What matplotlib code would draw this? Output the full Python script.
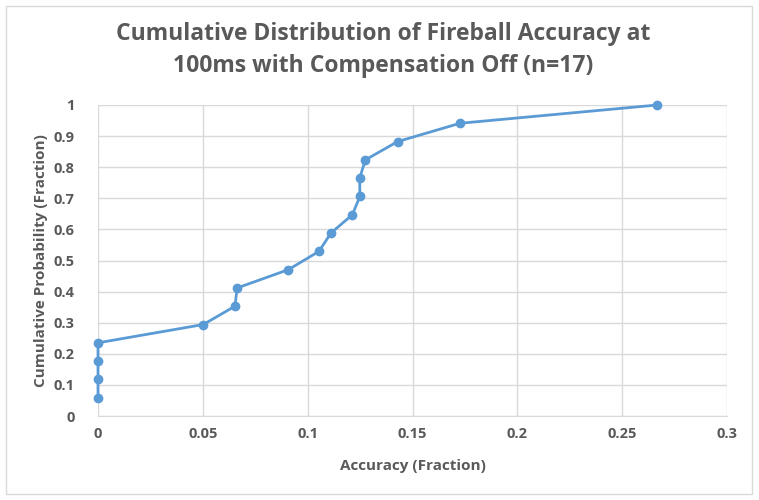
import numpy as np
import matplotlib.pyplot as plt
from matplotlib.patches import Rectangle

# accuracy values (sorted) and cumulative probability
accuracy = [0, 0, 0, 0, 0.0502, 0.0653, 0.0664, 0.0908, 0.1054, 0.1111,
            0.1213, 0.1249, 0.1248, 0.1275, 0.1429, 0.1726, 0.2667]
cum_prob = [1/17, 2/17, 3/17, 4/17, 5/17, 6/17, 7/17, 8/17, 9/17, 10/17,
            11/17, 12/17, 13/17, 14/17, 15/17, 16/17, 1.0]

xticks = [0, 0.05, 0.1, 0.15, 0.2, 0.25, 0.3]
xtick_labels = ["0", "0.05", "0.1", "0.15", "0.2", "0.25", "0.3"]
yticks = np.round(np.arange(0, 1.01, 0.1), 1)
ytick_labels = ["0", "0.1", "0.2", "0.3", "0.4", "0.5", "0.6", "0.7", "0.8", "0.9", "1"]

plt.rcParams['font.family'] = ['Open Sans', 'DejaVu Sans']
text_col = "#595959"
grid_col = "#D9D9D9"
line_col = "#5B9BD5"

fig = plt.figure(figsize=(7.59, 5), dpi=100)
W, H = 759, 500
ax = fig.add_axes([98 / W, 1 - 416 / H, (727 - 98) / W, (416 - 105) / H])

# outer chart border
fig.patches.append(Rectangle((6 / W, 1 - 494 / H), (752 - 6) / W, (494 - 6) / H,
                             transform=fig.transFigure, fill=False,
                             edgecolor=grid_col, linewidth=1))

ax.plot(accuracy, cum_prob, color=line_col, linewidth=2, marker='o',
        markersize=6, clip_on=False, zorder=3)

ax.set_xlim(0, 0.3)
ax.set_ylim(0, 1)
ax.set_xticks(xticks)
ax.set_xticklabels(xtick_labels)
ax.set_yticks(yticks)
ax.set_yticklabels(ytick_labels)
ax.grid(True, color=grid_col, linewidth=1)
ax.set_axisbelow(True)
for s in ax.spines.values():
    s.set_visible(False)
ax.spines['bottom'].set_visible(True)
ax.spines['bottom'].set_color(grid_col)
ax.tick_params(axis='x', length=0, labelsize=10.5, labelcolor=text_col, pad=8)
ax.tick_params(axis='y', length=0, labelsize=10.5, labelcolor=text_col, pad=17)
for lab in ax.get_xticklabels() + ax.get_yticklabels():
    lab.set_fontweight('bold')

ax.set_xlabel("Accuracy (Fraction)", fontsize=11, fontweight='bold',
              color=text_col, labelpad=13)
ax.set_ylabel("Cumulative Probability (Fraction)", fontsize=11,
              fontweight='bold', color=text_col, labelpad=4)

fig.text(383 / W, 1 - 50 / H, "Cumulative Distribution of Fireball Accuracy at\n100ms with Compensation Off (n=17)",
         ha='center', va='center', fontsize=16.5, fontweight='bold',
         color=text_col, linespacing=1.4)

fig.savefig("out.png", dpi=100)
